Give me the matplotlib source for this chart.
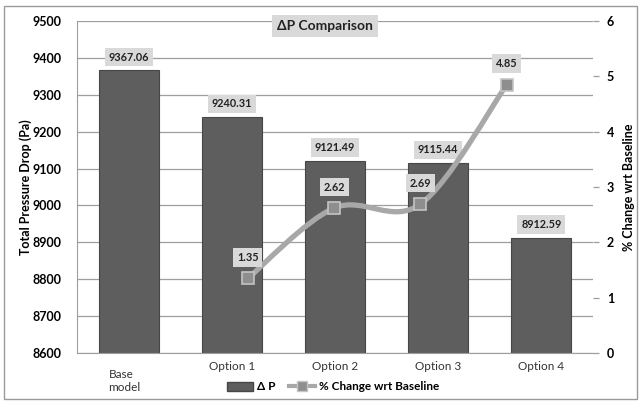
import numpy as np
import matplotlib.pyplot as plt
from matplotlib.path import Path
from matplotlib.patches import PathPatch, Rectangle, Patch
from matplotlib.lines import Line2D
from matplotlib.transforms import ScaledTranslation

categories = ['Base\nmodel', 'Option 1', 'Option 2', 'Option 3', 'Option 4']
pressure_drop = [9367.06, 9240.31, 9121.49, 9115.44, 8912.59]
pct_change = [1.35, 2.62, 2.69, 4.85]
left_ticks = list(range(8600, 9501, 100))
right_ticks = list(range(0, 7))

plt.rcParams['font.family'] = ['Lato', 'DejaVu Sans']

fig = plt.figure(figsize=(6.41, 4.01), dpi=100)
fig.patches.append(Rectangle((4 / 641, 2 / 401), 633 / 641, 393 / 401, transform=fig.transFigure,
                             fill=False, edgecolor='#9a9a9a', linewidth=1.0))

rect = [77 / 641, 1 - 353 / 401, 516 / 641, 332 / 401]
ax = fig.add_axes(rect)
x = np.arange(len(categories))
bars = ax.bar(x, pressure_drop, width=0.58, color='#5e5e5e', edgecolor='#474747',
              linewidth=0.8, zorder=2)
ax.set_xlim(-0.5, 4.5)
ax.set_ylim(8600, 9500)
ax.set_yticks(left_ticks)
ax.set_yticklabels([str(t) for t in left_ticks], fontsize=9, fontweight='bold')
ax.grid(axis='y', color='#9e9e9e', linewidth=0.9, zorder=0)
ax.set_axisbelow(True)
ax.tick_params(axis='y', length=0, pad=11)
ax.tick_params(axis='x', length=0, pad=6)
ax.set_xticks(x)
ax.set_xticklabels(categories, fontsize=8.5, color='#333333')
base = ax.get_xticklabels()[0]
base.set_horizontalalignment('left')
base.set_multialignment('left')
base.set_transform(base.get_transform() + ScaledTranslation(-0.2, -0.08, fig.dpi_scale_trans))
for side in ['top', 'right']:
    ax.spines[side].set_visible(False)
ax.spines['left'].set_color('#9e9e9e')
ax.spines['bottom'].set_color('#9e9e9e')
ax.set_ylabel('Total Pressure Drop (Pa)', fontsize=9, fontweight='bold')
ax.yaxis.set_label_coords((32 - 77) / 516, 0.5)

for b, v in zip(bars, pressure_drop):
    ax.annotate(f'{v:.2f}', (b.get_x() + b.get_width() / 2, v), xytext=(0, 13),
                textcoords='offset pixels', ha='center', va='center', fontsize=7.8,
                fontweight='bold', color='#222222', zorder=5,
                bbox=dict(boxstyle='square,pad=0.35', fc='#d9d9d9', ec='none'))

# line series on its own overlay axes
ax2 = fig.add_axes(rect, frameon=False)
ax2.set_xlim(-1.98, 4.0)
ax2.set_ylim(0, 6)
ax2.set_xticks([])
ax2.yaxis.tick_right()
ax2.yaxis.set_label_position('right')
ax2.set_yticks(right_ticks)
ax2.set_yticklabels([str(t) for t in right_ticks], fontsize=9, fontweight='bold')
ax2.tick_params(axis='y', length=4, width=0.9, color='#9e9e9e', pad=6, direction='out')
ax2.spines['right'].set_visible(True)
ax2.spines['right'].set_color('#9e9e9e')
ax2.set_ylabel('% Change wrt Baseline', fontsize=9, fontweight='bold')
ax2.yaxis.set_label_coords((623 - 77) / 516, 0.5)

px = np.arange(len(pct_change), dtype=float)
pts = np.column_stack([px, pct_change])
verts = [pts[0]]
codes = [Path.MOVETO]
for i in range(len(pts) - 1):
    p0 = pts[max(i - 1, 0)]
    p1 = pts[i]
    p2 = pts[i + 1]
    p3 = pts[min(i + 2, len(pts) - 1)]
    verts += [p1 + (p2 - p0) / 6, p2 - (p3 - p1) / 6, p2]
    codes += [Path.CURVE4] * 3
ax2.add_patch(PathPatch(Path(verts, codes), fill=False, edgecolor='#a8a8a8',
                        linewidth=3.8, capstyle='round', zorder=3))
ax2.plot(px, pct_change, linestyle='none', marker='s', markersize=9,
         markerfacecolor='#8e8e8e', markeredgecolor='#c4c4c4', markeredgewidth=1.2, zorder=4)
for xi, v in zip(px, pct_change):
    ax2.annotate(f'{v:.2f}', (xi, v), xytext=(0, 21), textcoords='offset pixels',
                 ha='center', va='center', fontsize=7.8, fontweight='bold', color='#222222',
                 zorder=5, bbox=dict(boxstyle='square,pad=0.35', fc='#d9d9d9', ec='none'))

fig.text(325 / 641, 1 - 26 / 401, 'ΔP Comparison', ha='center', va='center', fontsize=10,
         fontweight='bold', color='#222222',
         bbox=dict(boxstyle='square,pad=0.35', fc='#d9d9d9', ec='none'))

handles = [Patch(facecolor='#5e5e5e', edgecolor='#474747'),
           Line2D([], [], color='#a8a8a8', linewidth=3, marker='s', markersize=7,
                  markerfacecolor='#8e8e8e', markeredgecolor='#c4c4c4')]
fig.legend(handles, ['Δ P', '% Change wrt Baseline'], loc='center', ncol=2,
           bbox_to_anchor=(333 / 641, 1 - 387 / 401), frameon=False,
           prop={'size': 8.5, 'weight': 'bold'}, handlelength=2.2, handletextpad=0.3,
           columnspacing=1.2)

fig.savefig('out.png', dpi=100)
